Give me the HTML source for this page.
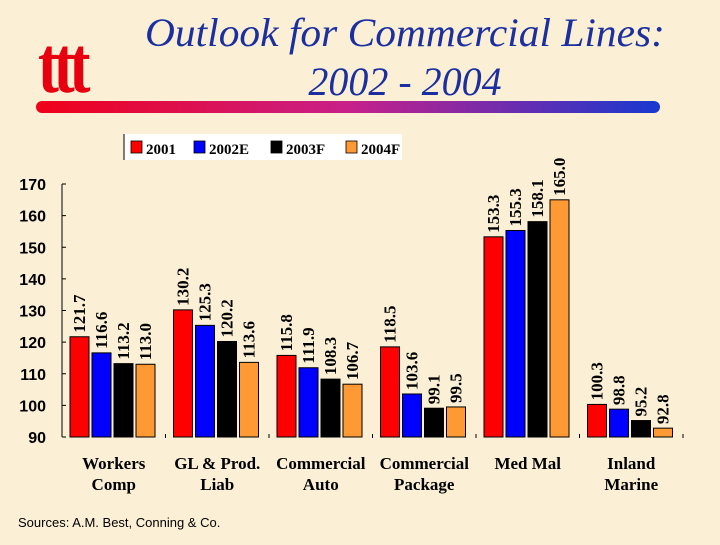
<!DOCTYPE html>
<html><head><meta charset="utf-8"><style>
html,body{margin:0;padding:0;}
body{width:720px;height:540px;overflow:hidden;background:#fbf0d6;position:relative;font-family:"Liberation Serif",serif;}
</style></head><body>
<svg width="720" height="540" xmlns="http://www.w3.org/2000/svg">
<defs><linearGradient id="bar" x1="0" x2="1"><stop offset="0" stop-color="#f00018"/><stop offset="0.5" stop-color="#c8208a"/><stop offset="1" stop-color="#1838d0"/></linearGradient></defs>
<rect width="720" height="540" fill="#fbf0d6"/>
<g fill="#e8000e">
<text x="0" y="0" font-family="Liberation Serif,serif" font-weight="bold" font-size="60" letter-spacing="-5" transform="translate(38,92) scale(1.05,1.35)">ttt</text>
</g>
<text x="405" y="46" text-anchor="middle" font-style="italic" font-size="40" fill="#1c2fa0" textLength="520" lengthAdjust="spacingAndGlyphs">Outlook for Commercial Lines:</text>
<text x="405" y="95" text-anchor="middle" font-style="italic" font-size="40" fill="#1c2fa0">2002 - 2004</text>
<rect x="36" y="101" width="624" height="12" rx="6" fill="url(#bar)"/>
<g>
<rect x="124" y="134" width="278" height="26" fill="#fff"/>
<line x1="124" y1="134" x2="124" y2="160" stroke="#000"/>
<g id="leg"></g>
</g>
<g id="chart"></g>
<text x="18" y="527" font-family="Liberation Sans,sans-serif" font-size="13" fill="#000">Sources:  A.M. Best, Conning &amp; Co.</text>
</svg>
<script>
const categories=[["Workers","Comp"],["GL & Prod.","Liab"],["Commercial","Auto"],["Commercial","Package"],["Med Mal"],["Inland","Marine"]];
const seriesNames=["2001","2002E","2003F","2004F"];
const s2001=[121.7,130.2,115.8,118.5,153.3,100.3];
const s2002=[116.6,125.3,111.9,103.6,155.3,98.8];
const s2003=[113.2,120.2,108.3,99.1,158.1,95.2];
const s2004=[113.0,113.6,106.7,99.5,165.0,92.8];
const yTicks=[90,100,110,120,130,140,150,160,170];
const colors=["#ff0000","#0000ff","#000000","#ff9933"];
const series=[s2001,s2002,s2003,s2004];
const NS="http://www.w3.org/2000/svg";
const x0=62,cw=103.5,y0=437,yTop=184,ymin=90,ymax=170;
function y(v){return y0-(v-ymin)/(ymax-ymin)*(y0-yTop);}
function mk(t,a,p){const e=document.createElementNS(NS,t);for(const k in a)e.setAttribute(k,a[k]);(p||g).appendChild(e);return e;}
const g=document.getElementById('chart');
const ax=mk('line',{x1:x0,y1:yTop,x2:x0,y2:y0,stroke:'#000'});


yTicks.forEach(t=>{
 mk('line',{x1:x0,y1:y(t),x2:x0+4,y2:y(t),stroke:'#000'});
 const tx=mk('text',{x:46,y:y(t)+6,'text-anchor':'end','font-family':'Liberation Sans,sans-serif','font-weight':'bold','font-size':16});
 tx.textContent=t;
 
 
});
for(let i=1;i<=categories.length;i++)mk('line',{x1:x0+i*cw,y1:y0-3,x2:x0+i*cw,y2:y0+1,stroke:'#000'});
categories.forEach((c,i)=>{
 c.forEach((l,j)=>{
  const t=mk('text',{x:x0+i*cw+cw/2,y:469+j*21,'text-anchor':'middle','font-weight':'bold','font-size':17});
  t.textContent=l;
  
  
 });
 series.forEach((s,k)=>{
  const bx=x0+i*cw+8+k*22;
  const r=mk('rect',{x:bx,y:y(s[i]),width:19,height:y0-y(s[i]),fill:colors[k],stroke:'#000','stroke-width':1});
  
  
  const lx=bx+15,ly=y(s[i])-4;
  const t=mk('text',{x:lx,y:ly,transform:`rotate(-90 ${lx} ${ly})`,'font-weight':'bold','font-size':17});
  t.textContent=s[i].toFixed(1);
  
  
 });
});
const lg=document.getElementById('leg');
let lx=131;const widths=[63,77,75,70];
seriesNames.forEach((n,k)=>{
 const r=mk('rect',{x:lx,y:141,width:11,height:12,fill:colors[k],stroke:'#000','stroke-width':0.8},lg);
 
 
 const t=mk('text',{x:lx+15,y:154,'font-weight':'bold','font-size':15},lg);
 t.textContent=n;
 
 
 lx+=widths[k];
});
</script>
</body></html>
